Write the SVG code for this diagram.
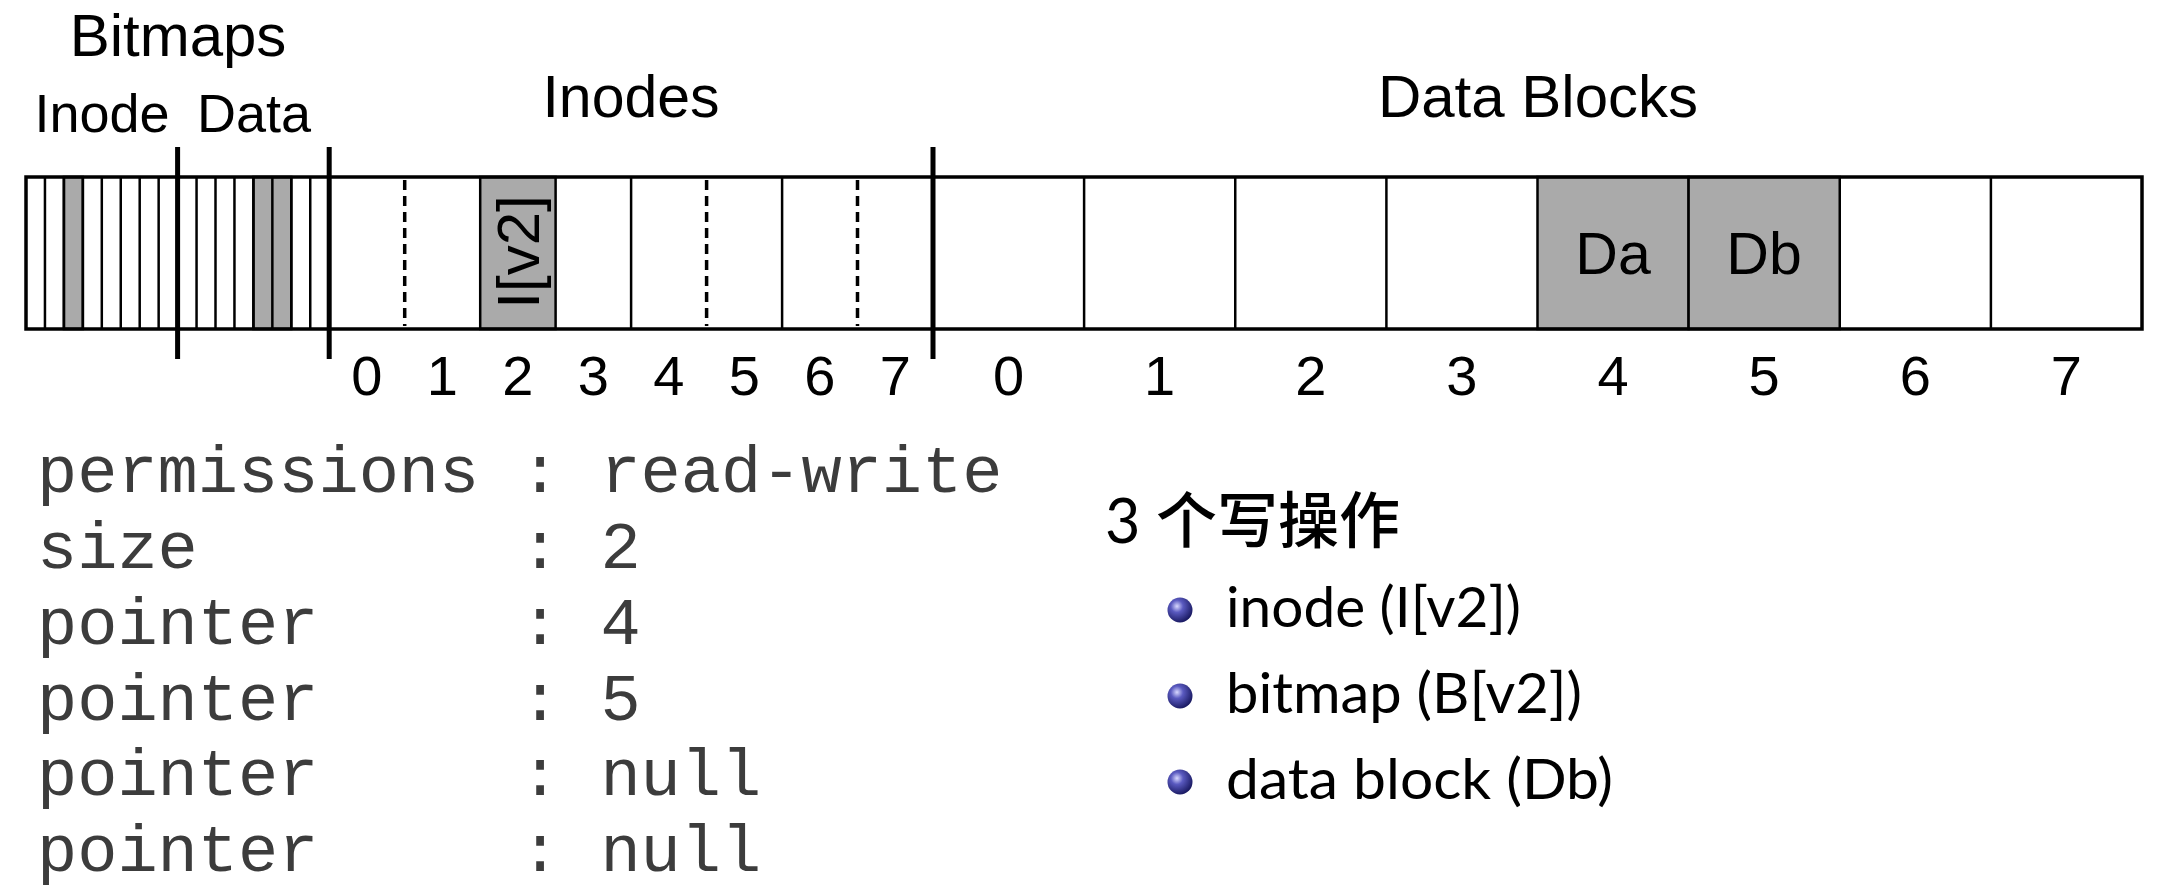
<svg xmlns="http://www.w3.org/2000/svg" width="2157" height="893" viewBox="0 0 2157 893">
<defs>
<style>
.lbl{font-family:"Liberation Sans",Arial,sans-serif;fill:#000;}
.num{font-family:"Liberation Sans",Arial,sans-serif;font-size:56px;fill:#000;text-anchor:middle;}
.cell{stroke:#000;stroke-width:2.5;fill:none;}
.shade{fill:#aaaaaa;stroke:#000;stroke-width:2.5;}
.sep{stroke:#000;stroke-width:5;}
.dash{stroke:#000;stroke-width:3.5;stroke-dasharray:10 6;}
.mono{font-family:"Courier New",Courier,"Nimbus Mono PS","Liberation Mono",monospace;font-size:67px;fill:#3c3c3c;}
.item{font-family:Lato,"Noto Sans","Noto Sans CJK SC",sans-serif;font-size:56px;fill:#000;}
.head{font-family:Lato,"Noto Sans CJK SC",sans-serif;font-size:61px;fill:#000;}
</style>
<radialGradient id="ball" cx="0.38" cy="0.35" r="0.7">
<stop offset="0" stop-color="#d8d8ff"/>
<stop offset="0.35" stop-color="#5a5ac0"/>
<stop offset="1" stop-color="#14145a"/>
</radialGradient>
</defs>
<rect width="2157" height="893" fill="#fff"/>

<g id="headings">
<text class="lbl" x="178" y="56" font-size="60" text-anchor="middle">Bitmaps</text>
<text class="lbl" x="102" y="132" font-size="54" text-anchor="middle">Inode</text>
<text class="lbl" x="254" y="132" font-size="54" text-anchor="middle">Data</text>
<text class="lbl" x="631" y="117" font-size="59" text-anchor="middle">Inodes</text>
<text class="lbl" x="1538" y="117" font-size="60" text-anchor="middle">Data Blocks</text>
</g>

<g id="bitmaps">
<rect class="shade" x="63.9" y="177" width="18.95" height="152"/>
<rect class="shade" x="253.4" y="177" width="37.9" height="152"/>
<g class="cell">
<line x1="44.95" y1="177" x2="44.95" y2="329"/>
<line x1="63.9" y1="177" x2="63.9" y2="329"/>
<line x1="82.85" y1="177" x2="82.85" y2="329"/>
<line x1="101.8" y1="177" x2="101.8" y2="329"/>
<line x1="120.75" y1="177" x2="120.75" y2="329"/>
<line x1="139.7" y1="177" x2="139.7" y2="329"/>
<line x1="158.65" y1="177" x2="158.65" y2="329"/>
<line x1="196.55" y1="177" x2="196.55" y2="329"/>
<line x1="215.5" y1="177" x2="215.5" y2="329"/>
<line x1="234.45" y1="177" x2="234.45" y2="329"/>
<line x1="253.4" y1="177" x2="253.4" y2="329"/>
<line x1="272.35" y1="177" x2="272.35" y2="329"/>
<line x1="291.3" y1="177" x2="291.3" y2="329"/>
<line x1="310.25" y1="177" x2="310.25" y2="329"/>
</g>
</g>

<g id="inodes">
<rect class="shade" x="480.2" y="177" width="75.4" height="152"/>
<text class="lbl" font-size="60" text-anchor="middle" transform="translate(539,252) rotate(-90)">I[v2]</text>
<line class="cell" x1="631.1" y1="177" x2="631.1" y2="329"/>
<line class="cell" x1="782.1" y1="177" x2="782.1" y2="329"/>
<line class="dash" x1="404.7" y1="180" x2="404.7" y2="326"/>
<line class="dash" x1="706.6" y1="180" x2="706.6" y2="326" stroke-width="2.5"/>
<line class="dash" x1="857.5" y1="180" x2="857.5" y2="326"/>
</g>

<g id="datablocks">
<rect class="shade" x="1537.5" y="177" width="151.1" height="152"/>
<rect class="shade" x="1688.6" y="177" width="151.15" height="152"/>
<text class="lbl" x="1613" y="274" font-size="59" text-anchor="middle">Da</text>
<text class="lbl" x="1764" y="274" font-size="59" text-anchor="middle">Db</text>
<line class="cell" x1="1084.1" y1="177" x2="1084.1" y2="329"/>
<line class="cell" x1="1235.25" y1="177" x2="1235.25" y2="329"/>
<line class="cell" x1="1386.4" y1="177" x2="1386.4" y2="329"/>
<line class="cell" x1="1990.9" y1="177" x2="1990.9" y2="329"/>
</g>

<g id="outline">
<rect x="26" y="177" width="2116" height="152" fill="none" stroke="#000" stroke-width="3.5"/>
<line class="sep" x1="177.6" y1="147" x2="177.6" y2="359"/>
<line class="sep" x1="329.2" y1="147" x2="329.2" y2="359"/>
<line class="sep" x1="933" y1="147" x2="933" y2="359"/>
</g>

<g id="numbers">
<text class="num" x="366.9" y="395">0</text>
<text class="num" x="442.4" y="395">1</text>
<text class="num" x="517.9" y="395">2</text>
<text class="num" x="593.4" y="395">3</text>
<text class="num" x="668.9" y="395">4</text>
<text class="num" x="744.3" y="395">5</text>
<text class="num" x="819.8" y="395">6</text>
<text class="num" x="895.3" y="395">7</text>
<text class="num" x="1008.6" y="395">0</text>
<text class="num" x="1159.7" y="395">1</text>
<text class="num" x="1310.8" y="395">2</text>
<text class="num" x="1461.9" y="395">3</text>
<text class="num" x="1613.1" y="395">4</text>
<text class="num" x="1764.2" y="395">5</text>
<text class="num" x="1915.3" y="395">6</text>
<text class="num" x="2066.4" y="395">7</text>
</g>

<g id="inode-fields">
<text class="mono" x="37" y="492">permissions</text>
<text class="mono" x="37" y="568">size</text>
<text class="mono" x="37" y="644">pointer</text>
<text class="mono" x="37" y="720">pointer</text>
<text class="mono" x="37" y="795">pointer</text>
<text class="mono" x="37" y="871">pointer</text>
<text class="mono" x="520" y="492">: read-write</text>
<text class="mono" x="520" y="568">: 2</text>
<text class="mono" x="520" y="644">: 4</text>
<text class="mono" x="520" y="720">: 5</text>
<text class="mono" x="520" y="795">: null</text>
<text class="mono" x="520" y="871">: null</text>
</g>

<g id="writes">
<text class="head" x="1105" y="543">3 <tspan font-weight="500">个写操作</tspan></text>
<circle cx="1180" cy="610" r="12.5" fill="url(#ball)"/>
<circle cx="1180" cy="696" r="12.5" fill="url(#ball)"/>
<circle cx="1180" cy="782" r="12.5" fill="url(#ball)"/>
<text class="item" x="1226" y="627" textLength="295" lengthAdjust="spacingAndGlyphs">inode (I[v2])</text>
<text class="item" x="1226" y="713" textLength="356" lengthAdjust="spacingAndGlyphs">bitmap (B[v2])</text>
<text class="item" x="1226" y="799" textLength="387" lengthAdjust="spacingAndGlyphs">data block (Db)</text>
</g>
</svg>
